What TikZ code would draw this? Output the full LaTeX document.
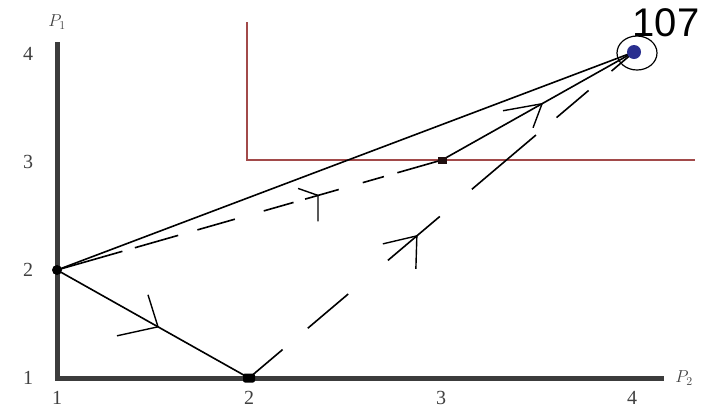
\documentclass[tikz,border=0pt]{standalone}
\usepackage{fontspec}
\setmainfont{Liberation Serif}
\newfontfamily\labsans{Liberation Sans}
\usetikzlibrary{calc,shapes.geometric}
\definecolor{axisgray}{HTML}{3C3C3C}
\definecolor{labgray}{HTML}{404040}
\definecolor{optred}{HTML}{A24A4A}
\definecolor{dotblue}{HTML}{2A2F8F}
\begin{document}
\begin{tikzpicture}[x=1pt,y=-1pt,
  axisline/.style={line width=5pt, draw=axisgray, line join=miter},
  conn/.style={line width=1.6pt, draw=black},
  barb/.style={line width=1.4pt, draw=black},
  optline/.style={line width=1.5pt, draw=optred},
  ticklab/.style={font=\fontsize{20}{20}\selectfont, text=labgray, inner sep=0pt},
  axlab/.style={font=\fontsize{18}{18}\selectfont, text=labgray, inner sep=0pt},
  bdot/.style={circle, fill=black, inner sep=0pt, minimum size=10pt},
  bsq/.style={rectangle, rounded corners=2pt, fill=black, inner sep=0pt, minimum width=12pt, minimum height=9pt},
  csq/.style={rectangle, fill=black!80!optred, inner sep=0pt, minimum width=9pt, minimum height=7pt},
  bluedot/.style={circle, fill=dotblue, inner sep=0pt, minimum size=14pt},
  ring/.style={ellipse, draw=black, line width=1.2pt, inner sep=0pt, minimum width=40pt, minimum height=34pt}]
\useasboundingbox (0,0) rectangle (706,408);
% key coordinates
\coordinate (O) at (57,378);
\coordinate (Ytop) at (57,42);
\coordinate (Xend) at (664,378);
\coordinate (R1) at (247,22);
\coordinate (R2) at (247,160);
\coordinate (R3) at (695,160);
\coordinate (A) at (57,270);
\coordinate (B) at (249,378);
\coordinate (C) at (442,160);
\coordinate (D) at (634,52);
% axes
\draw[axisline] (Ytop) -- (O) -- (Xend);
% red lines
\draw[optline] (R1) -- (R2) -- (R3);
% connectors
\draw[conn] (A) -- (B);
\draw[conn] (A) -- (D);
\draw[conn] (C) -- (D);
\draw[conn, dash pattern=on 68pt off 13pt on 45pt off 20pt on 39pt off 30pt on 31pt off 12pt on 35pt off 25pt on 22pt off 14pt on 50pt] (A) -- (C);
\draw[conn, dash pattern=on 44pt off 33pt on 53pt off 52pt on 68pt off 42pt on 84pt off 27pt on 42pt off 30pt on 40pt] (B) -- (D);
% arrow marks
\coordinate (m1) at ($(A)!0.526!(B)$);
\coordinate (m2) at ($(A)!0.678!(C)$);
\coordinate (m3) at ($(C)!0.521!(D)$);
\coordinate (m4) at ($(B)!0.436!(D)$);
\draw[barb] ([shift={(-10,-32)}]m1) -- (m1) -- ([shift={(-41,9)}]m1);
\draw[barb] ([shift={(-20,-7)}]m2) -- (m2) -- ([shift={(0,26)}]m2);
\draw[barb] ([shift={(-39,7)}]m3) -- (m3) -- ([shift={(-9,24)}]m3);
\draw[barb] ([shift={(-34,8)}]m4) -- (m4) -- ([shift={(-1,33)}]m4);
% points
\node[bdot] (Adot) at (A) {};
\node[bsq] (Bdot) at (B) {};
\node[csq] (Cdot) at (C) {};
\node[bluedot] (Ddot) at (D) {};
\node[ring] (Dring) at (637,53) {};
\node[font=\labsans\fontsize{40}{40}\selectfont, inner sep=0pt] (n107) at (666,23) {107};
% axis labels
\node[axlab] (P1) at (57,22) {$P_1$};
\node[axlab] (P2) at (684,378) {$P_2$};
% tick labels
\node[ticklab] (y4) at (28,54) {4};
\node[ticklab] (y3) at (28,162) {3};
\node[ticklab] (y2) at (28,270) {2};
\node[ticklab] (y1) at (28,378) {1};
\node[ticklab] (x1) at (57,398) {1};
\node[ticklab] (x2) at (249,398) {2};
\node[ticklab] (x3) at (441,398) {3};
\node[ticklab] (x4) at (632,398) {4};
\end{tikzpicture}
\end{document}
